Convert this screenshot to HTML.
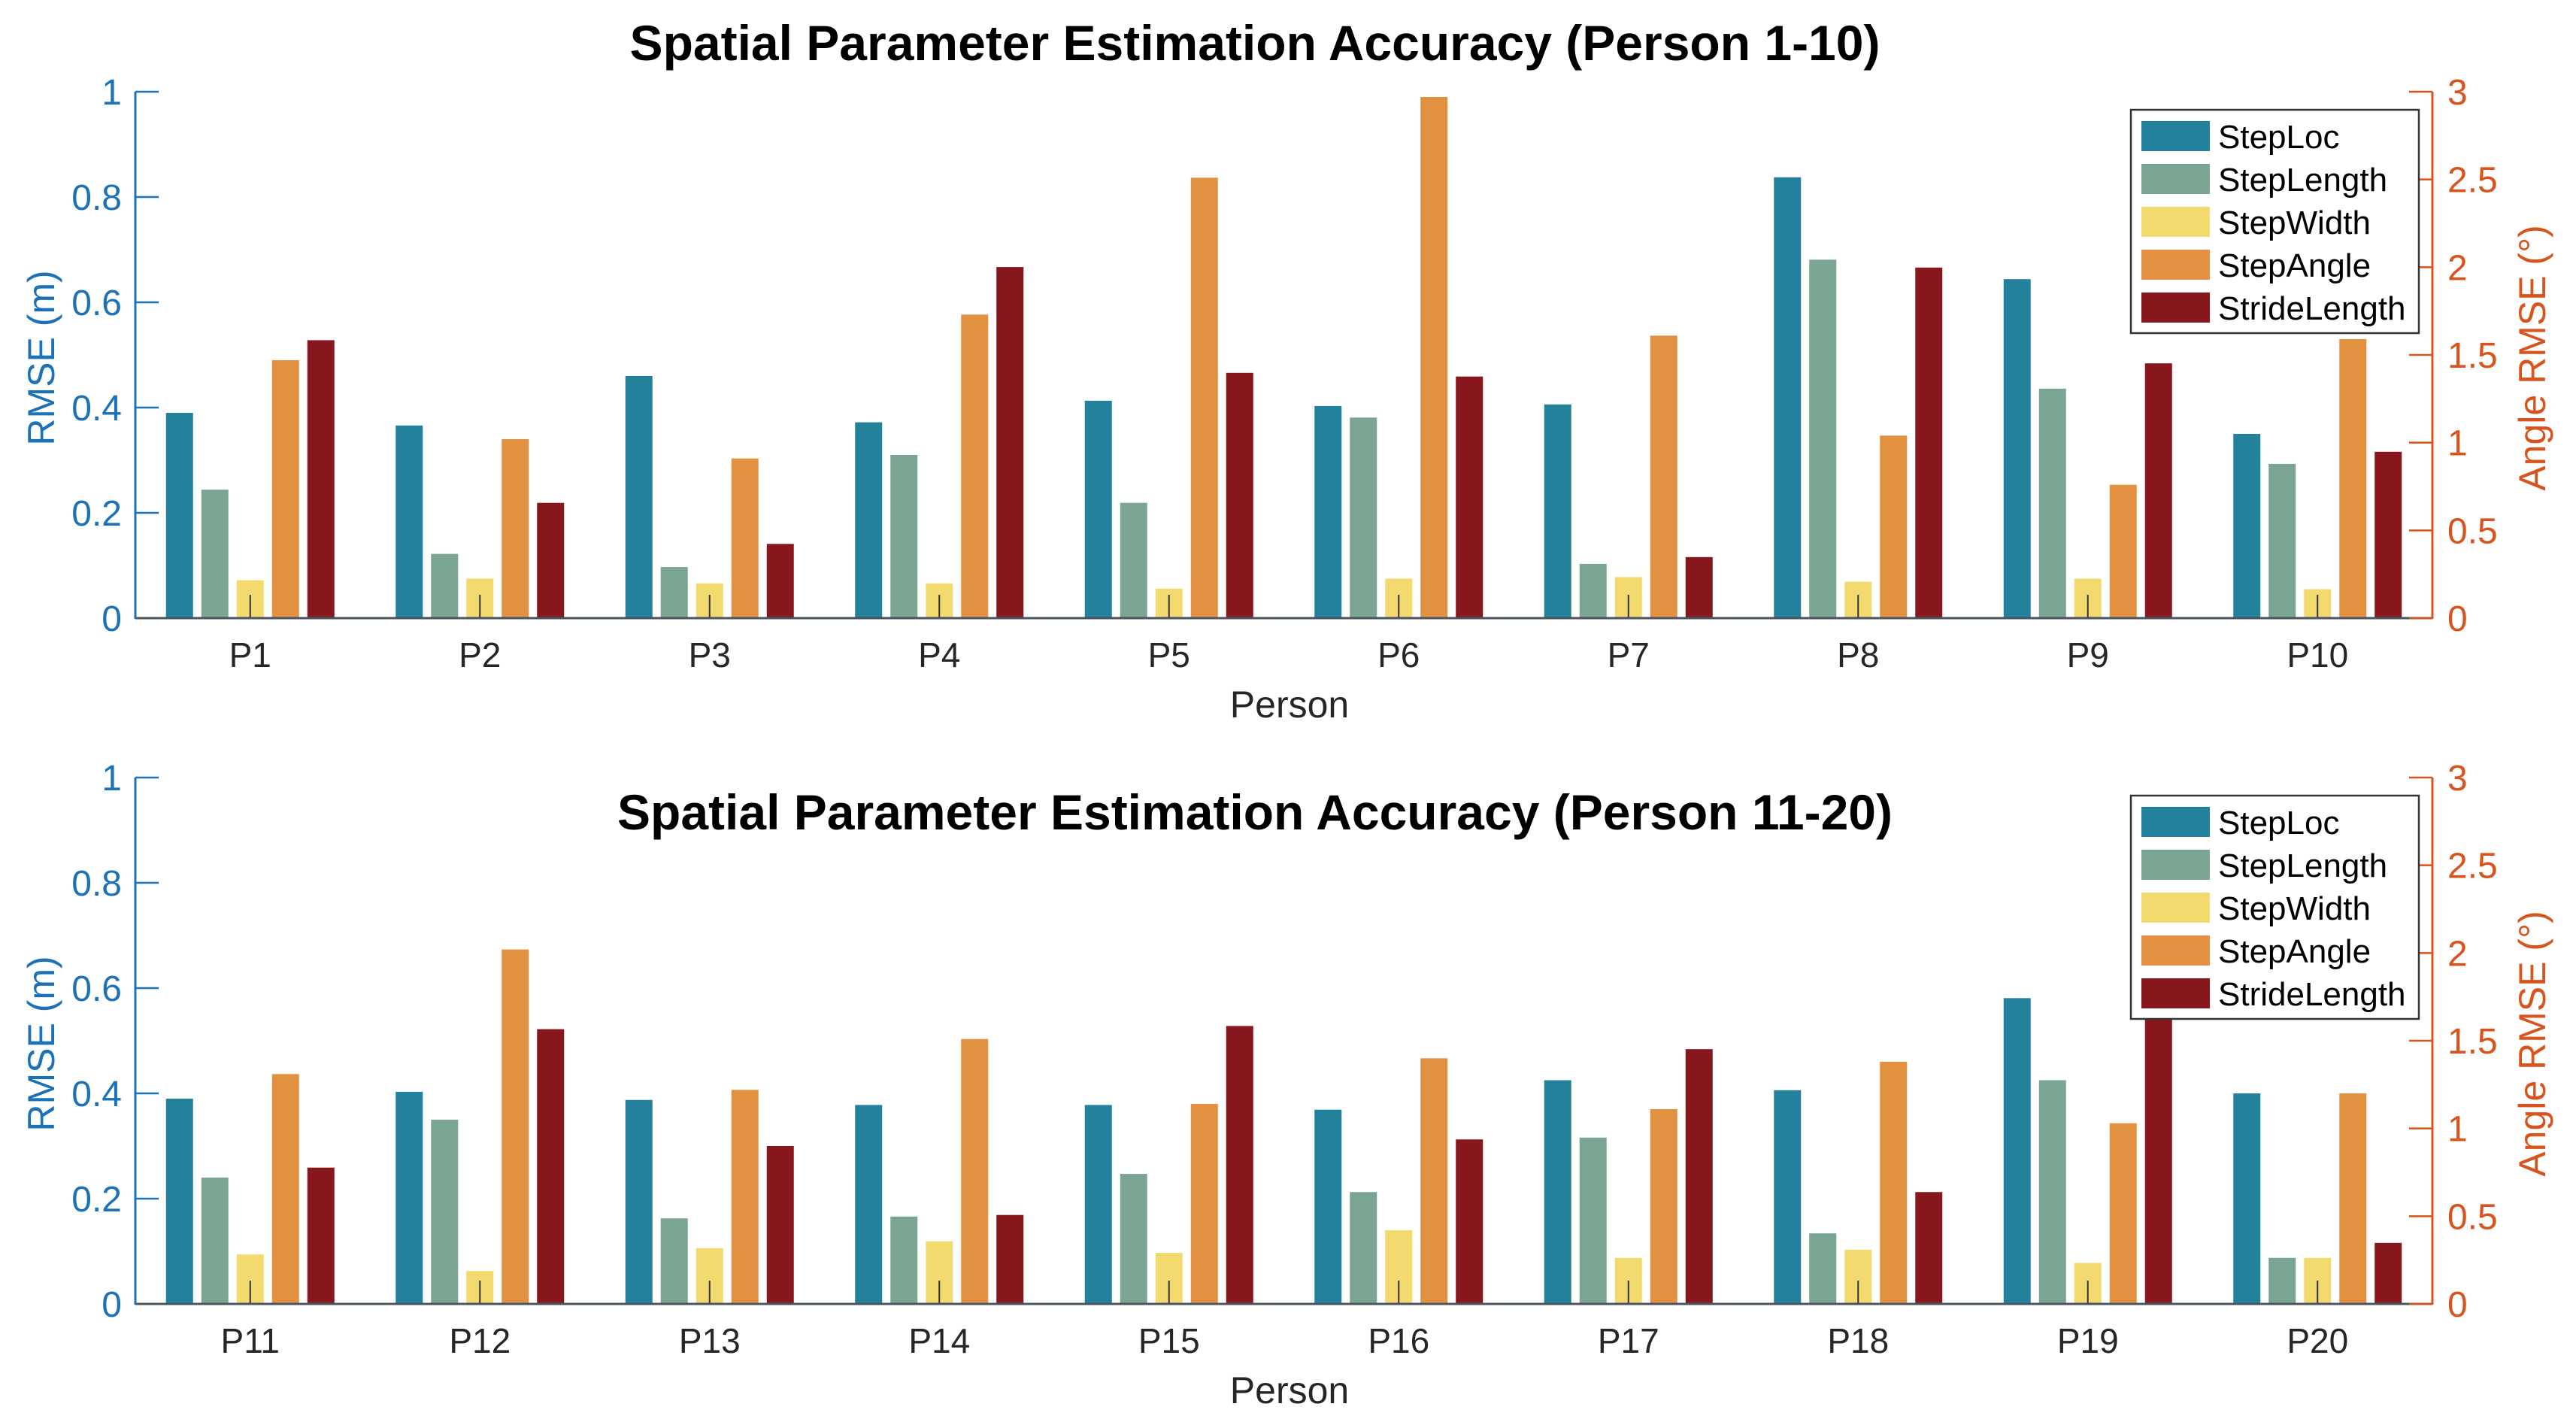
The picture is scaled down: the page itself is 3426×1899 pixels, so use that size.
<!DOCTYPE html>
<html><head><meta charset="utf-8"><style>
html,body{margin:0;padding:0;background:#fff;}
svg{display:block;font-family:"Liberation Sans",Helvetica,Arial,sans-serif;}
</style></head><body>
<svg id="chart" width="3426" height="1899" viewBox="0 0 3426 1899" xmlns="http://www.w3.org/2000/svg"></svg>
<script>
const seriesNames = ["StepLoc","StepLength","StepWidth","StepAngle","StrideLength"];
const seriesColors = ["#24819b","#7aa592","#f2da6e","#e19140","#88171d"];
const categoriesTop = ["P1","P2","P3","P4","P5","P6","P7","P8","P9","P10"];
const categoriesBottom = ["P11","P12","P13","P14","P15","P16","P17","P18","P19","P20"];
// left axis (m)
const stepLocTop = [0.39,0.366,0.46,0.372,0.413,0.403,0.406,0.8375,0.644,0.35];
const stepLengthTop = [0.244,0.122,0.097,0.31,0.219,0.381,0.103,0.681,0.436,0.293];
const stepWidthTop = [0.072,0.075,0.066,0.066,0.056,0.075,0.078,0.069,0.075,0.055];
// right axis (deg)
const stepAngleTop = [1.47,1.02,0.91,1.73,2.51,2.97,1.61,1.04,0.76,1.59];
const strideLengthTop = [0.528,0.219,0.141,0.667,0.466,0.459,0.116,0.666,0.484,0.316];
const stepLocBottom = [0.39,0.403,0.3875,0.378,0.378,0.369,0.425,0.406,0.581,0.4];
const stepLengthBottom = [0.24,0.35,0.1625,0.166,0.247,0.2125,0.316,0.134,0.425,0.0875];
const stepWidthBottom = [0.094,0.0625,0.106,0.119,0.097,0.14,0.0875,0.103,0.078,0.0875];
const stepAngleBottom = [1.31,2.02,1.22,1.51,1.14,1.40,1.11,1.38,1.03,1.2];
const strideLengthBottom = [0.259,0.522,0.30,0.169,0.528,0.3125,0.484,0.2125,0.547,0.116];
const leftTicks = ["0","0.2","0.4","0.6","0.8","1"];
const rightTicks = ["0","0.5","1","1.5","2","2.5","3"];

const NS="http://www.w3.org/2000/svg";
const svg=document.getElementById('chart');
function el(tag,attrs,parent,text){const e=document.createElementNS(NS,tag);for(const k in attrs)e.setAttribute(k,attrs[k]);if(text!==undefined)e.textContent=text;(parent||svg).appendChild(e);return e;}

const X0=180,X1=3235,LEFTC="#1b72b8",RIGHTC="#d9541c";
function panel(top,title,cats,series,idx){
  const y0=top+700, H=700;
  const g=el('g',{});
  
  
  const yL=v=>y0-v*H, yR=v=>y0-v/3*H;
  const gw=(X1-X0)/cats.length;
  const xC=i=>X0+gw*(i+0.5);
  const offs=[-94,-47,0,47,94], bw=36;
  cats.forEach((c,i)=>{
    series.forEach((arr,s)=>{
      const isR=(s===3);
      const yy=isR?yR(arr[i]):yL(arr[i]);
      const r=el('rect',{x:xC(i)+offs[s]-bw/2,y:yy,width:bw,height:y0-yy,fill:seriesColors[s]},g);
      
      
    });
    const st=el('line',{x1:xC(i),x2:xC(i),y1:y0-31,y2:y0,stroke:"#333",'stroke-width':2},g);
    
    
    const t=el('text',{x:xC(i),y:y0+65,'font-size':46,fill:"#262626",'text-anchor':'middle'},g,c);
    
    
  });
  const bl=el('line',{x1:X0,x2:X1,y1:y0,y2:y0,stroke:"#4a5561",'stroke-width':3},g);
  
  
  const la=el('line',{x1:X0,x2:X0,y1:top,y2:y0+1,stroke:LEFTC,'stroke-width':3},g);
  
  
  const ra=el('line',{x1:X1,x2:X1,y1:top,y2:y0+1,stroke:RIGHTC,'stroke-width':3},g);
  
  
  leftTicks.forEach(tk=>{
    const y=yL(parseFloat(tk));
    if(tk!=="0") el('line',{x1:X0,x2:X0+31,y1:y,y2:y,stroke:LEFTC,'stroke-width':2.5},g);
    const t=el('text',{x:162,y:y+17,'font-size':48,fill:LEFTC,'text-anchor':'end'},g,tk);
    
    
  });
  rightTicks.forEach(tk=>{
    const y=yR(parseFloat(tk));
    el('line',{x1:X1-31,x2:X1,y1:y,y2:y,stroke:RIGHTC,'stroke-width':2.5},g);
    const t=el('text',{x:3255,y:y+17,'font-size':48,fill:RIGHTC,'text-anchor':'start'},g,tk);
    
    
  });
  const yl=el('text',{x:0,y:0,'font-size':50,fill:LEFTC,'text-anchor':'middle',transform:`translate(72,${top+354}) rotate(-90)`},g,"RMSE (m)");
  
  
  const yr=el('text',{x:0,y:0,'font-size':50,fill:RIGHTC,'text-anchor':'middle',transform:`translate(3385,${top+354}) rotate(-90)`},g,"Angle RMSE (°)");
  
  
  const xl=el('text',{x:1715,y:y0+132,'font-size':50,fill:"#262626",'text-anchor':'middle'},g,"Person");
  
  
  const tt=el('text',{x:1669,y:top-42+(idx===1?0:111),'font-size':66,'font-weight':'bold',fill:"#000",'text-anchor':'middle'},g,title);
  
  
  const lg=el('g',{},g);
  
  
  const lt=top+24;
  el('rect',{x:2834,y:lt,width:383,height:297,fill:"#fff",stroke:"#333",'stroke-width':2.5},lg);
  seriesNames.forEach((n,s)=>{
    const cy=lt+35+57*s;
    const e=el('g',{},lg);
    
    
    el('rect',{x:2848,y:cy-20,width:91,height:40,fill:seriesColors[s]},e);
    el('text',{x:2950,y:cy+16,'font-size':44,fill:"#000"},e,n);
  });
}
panel(122,"Spatial Parameter Estimation Accuracy (Person 1-10)",categoriesTop,
  [stepLocTop,stepLengthTop,stepWidthTop,stepAngleTop,strideLengthTop],1);
panel(1034,"Spatial Parameter Estimation Accuracy (Person 11-20)",categoriesBottom,
  [stepLocBottom,stepLengthBottom,stepWidthBottom,stepAngleBottom,strideLengthBottom],2);
</script>
</body></html>
